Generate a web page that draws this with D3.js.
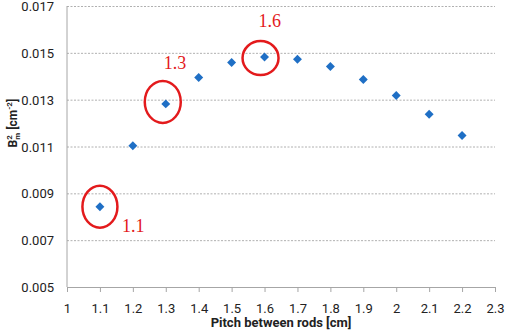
<!DOCTYPE html>
<html>
<head>
<meta charset="utf-8">
<script src="https://cdn.jsdelivr.net/npm/d3@7"></script>
<style>
  body { margin: 0; background: #fff; }
  svg { display: block; }
  .axis-text { font-family: Roboto, "Open Sans", sans-serif; }
</style>
</head>
<body>
<svg width="505" height="335"></svg>
<script>
const pitch = [1.1, 1.2, 1.3, 1.4, 1.5, 1.6, 1.7, 1.8, 1.9, 2.0, 2.1, 2.2];
const bm2 = [0.00843, 0.01103, 0.01282, 0.01395, 0.01459, 0.01482, 0.01473, 0.01442, 0.01386, 0.01318, 0.01238, 0.01147];
const xTicks = [1, 1.1, 1.2, 1.3, 1.4, 1.5, 1.6, 1.7, 1.8, 1.9, 2, 2.1, 2.2, 2.3];
const yTicks = [0.005, 0.007, 0.009, 0.011, 0.013, 0.015, 0.017];
const marked = ['1.1', '1.3', '1.6'];

const svg = d3.select('svg');
const margin = {top: 6, right: 10, bottom: 48, left: 67};
const width = +svg.attr('width');
const height = +svg.attr('height');
const innerWidth = width - margin.left - margin.right;
const innerHeight = height - margin.top - margin.bottom;

const xScale = d3.scaleLinear().domain([1, 2.3]).range([0, innerWidth]);
const yScale = d3.scaleLinear().domain([0.005, 0.017]).range([innerHeight, 0]);

const g = svg.append('g')
    .attr('transform', `translate(${margin.left},${margin.top})`);

// grid
const yAxis = d3.axisLeft(yScale)
    .tickValues(yTicks)
    .tickFormat(d3.format('.3f'))
    .tickSize(-innerWidth)
    .tickPadding(13);
const yAxisG = g.append('g').call(yAxis).attr('font-family', null);
yAxisG.select('.domain').remove();
yAxisG.selectAll('line')
    .attr('stroke', '#b0b0b0')
    .attr('stroke-dasharray', '2,1.5')
    .filter(d => d === 0.005).remove();
yAxisG.selectAll('text')
    .attr('class', 'axis-text')
    .attr('dy', null)
    .attr('y', 4.5)
    .attr('font-size', 13)
    .attr('fill', '#222');

g.append('line')
    .attr('x1', 0).attr('x2', 0)
    .attr('y1', 0).attr('y2', innerHeight)
    .attr('stroke', '#a6a6a6');

const xAxis = d3.axisBottom(xScale)
    .tickValues(xTicks)
    .tickFormat(d => d)
    .tickSize(5)
    .tickPadding(12);
const xAxisG = g.append('g')
    .attr('transform', `translate(0,${innerHeight})`)
    .call(xAxis)
    .attr('font-family', null);
xAxisG.select('.domain').attr('stroke', '#a6a6a6');
xAxisG.selectAll('line').attr('stroke', '#a6a6a6');
xAxisG.selectAll('text')
    .attr('class', 'axis-text')
    .attr('dy', null)
    .attr('y', 26)
    .attr('font-size', 13)
    .attr('fill', '#222');

g.append('text')
    .attr('class', 'axis-text')
    .attr('x', innerWidth / 2)
    .attr('y', innerHeight + 40)
    .attr('text-anchor', 'middle')
    .attr('font-size', 13)
    .attr('font-weight', 'bold')
    .attr('fill', '#222')
    .text('Pitch between rods [cm]');

const yLabel = svg.append('text')
    .attr('class', 'axis-text')
    .attr('transform', `translate(17,${margin.top + yScale(0.012)}) rotate(-90)`)
    .attr('text-anchor', 'middle')
    .attr('font-size', 12)
    .attr('font-weight', 'bold')
    .attr('fill', '#222');
yLabel.append('tspan').text('B');
yLabel.append('tspan').attr('font-size', 8).attr('dy', -5).text('2');
yLabel.append('tspan').attr('font-size', 8).attr('dx', -4.5).attr('dy', 8).text('m');
yLabel.append('tspan').attr('dy', -3).text(' [cm');
yLabel.append('tspan').attr('font-size', 8).attr('dy', -5).text('-2');
yLabel.append('tspan').attr('dy', 5).text(']');

// points
g.selectAll('.pt').data(pitch)
  .enter().append('path')
    .attr('class', 'pt')
    .attr('d', d3.symbol(d3.symbolSquare, 40))
    .attr('transform', (d, i) => `translate(${xScale(d)},${yScale(bm2[i])}) rotate(45)`)
    .attr('fill', '#1f6fc5');

// annotations
const rings = [
  {i: 0, dx: 0, dy: 0, rx: 17.5, ry: 21, lx: 22, ly: 25},
  {i: 2, dx: -3, dy: -2, rx: 18, ry: 21, lx: -2, ly: -35},
  {i: 5, dx: -4, dy: 1, rx: 18, ry: 17, lx: -6, ly: -30}
];
rings.forEach((r, k) => {
  const cx = xScale(pitch[r.i]) + r.dx;
  const cy = yScale(bm2[r.i]) + r.dy;
  g.append('ellipse')
    .attr('cx', cx).attr('cy', cy)
    .attr('rx', r.rx).attr('ry', r.ry)
    .attr('fill', 'none')
    .attr('stroke', '#e31a1c')
    .attr('stroke-width', 2.5);
  g.append('text')
    .attr('x', xScale(pitch[r.i]) + r.lx)
    .attr('y', yScale(bm2[r.i]) + r.ly)
    .style('font-family', '"Liberation Serif", "DejaVu Serif", serif')
    .attr('font-size', 18)
    .attr('fill', '#e31a1c')
    .text(marked[k]);
});
</script>
</body>
</html>
